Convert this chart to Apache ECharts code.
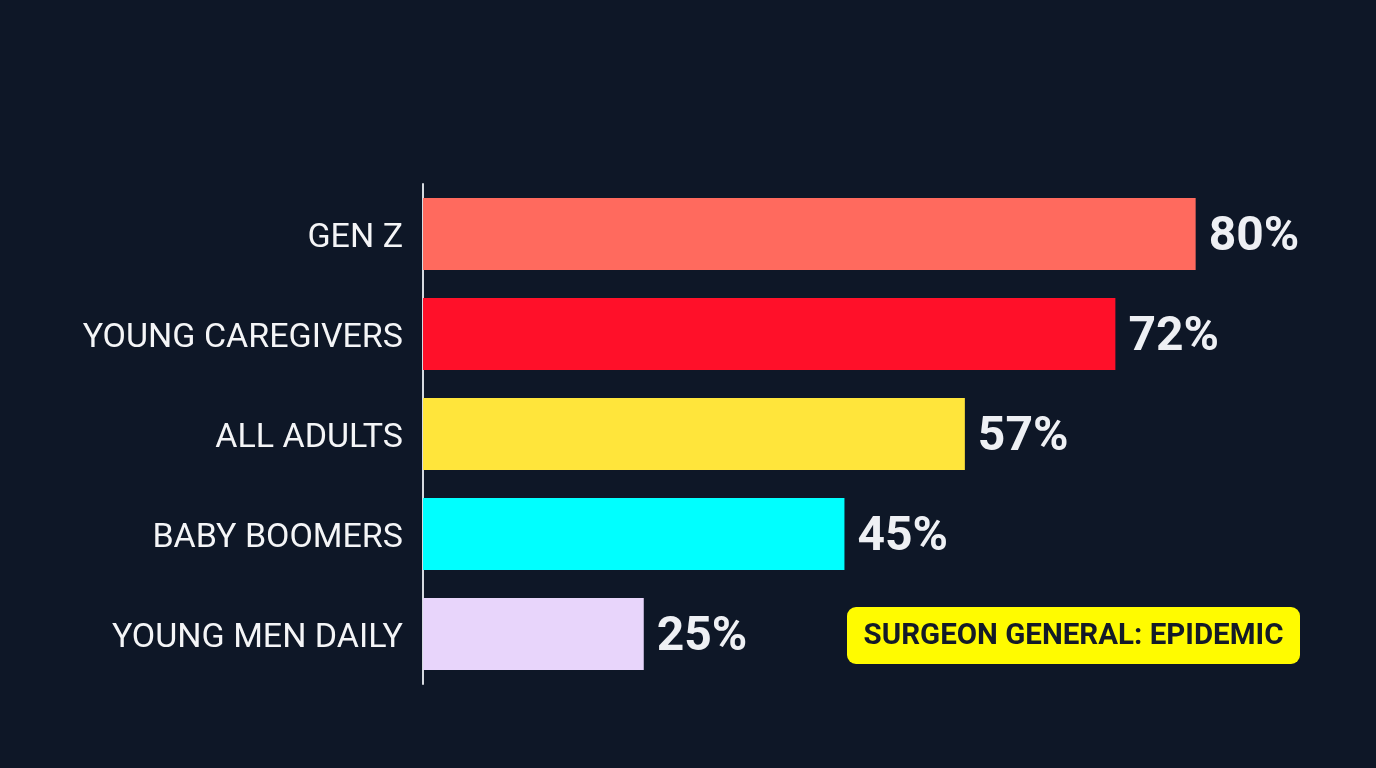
<!DOCTYPE html>
<html>
<head>
<meta charset="utf-8">
<script src="https://cdn.jsdelivr.net/npm/echarts@6/dist/echarts.min.js"></script>
<style>
html,body{margin:0;padding:0;background:#0e1727;}
#chart{width:1376px;height:768px;}
</style>
</head>
<body>
<div id="chart"></div>
<script>
const categories = ['GEN Z', 'YOUNG CAREGIVERS', 'ALL ADULTS', 'BABY BOOMERS', 'YOUNG MEN DAILY'];
const values = [80, 72, 57, 45, 25];
const barColors = ['#ff6a5e', '#ff1029', '#ffe53b', '#00ffff', '#e8d5fb'];
const annotationText = 'SURGEON GENERAL: EPIDEMIC';

const chart = echarts.init(document.getElementById('chart'));
chart.setOption({
  backgroundColor: '#0e1727',
  animation: false,
  grid: { left: 423, right: 80, top: 184, bottom: 84, containLabel: false },
  xAxis: {
    type: 'value', min: 3, max: 90,
    show: false
  },
  yAxis: {
    type: 'category',
    data: categories,
    inverse: true,
    axisLine: { show: true, lineStyle: { color: '#d6dae0', width: 2 } },
    axisTick: { show: false },
    axisLabel: {
      margin: 20,
      formatter: v => '{t|' + v + '}',
      rich: {
        t: { color: '#f4f5f7', fontFamily: 'Roboto', fontSize: 34, padding: [8, 0, 0, 0], lineHeight: 40 }
      }
    }
  },
  series: [{
    type: 'bar',
    barCategoryGap: '28%',
    data: values.map((v, i) => ({ value: v, itemStyle: { color: barColors[i] } })),
    label: {
      show: true, position: 'right', distance: 13, offset: [0, 4],
      formatter: p => p.value + '%',
      color: '#eef0f4', fontFamily: 'Roboto', fontWeight: 'bold', fontSize: 48
    }
  }],
  graphic: [{
    type: 'group', x: 847, y: 607,
    children: [{
      type: 'rect', shape: { x: 0, y: 0, width: 453, height: 57, r: 9 },
      style: { fill: '#fffb00' }
    }, {
      type: 'text', x: 226.5, y: 30,
      style: { text: annotationText, fill: '#141b28', font: 'bold 29.5px Roboto', align: 'center', verticalAlign: 'middle' }
    }]
  }]
});
</script>
</body>
</html>
